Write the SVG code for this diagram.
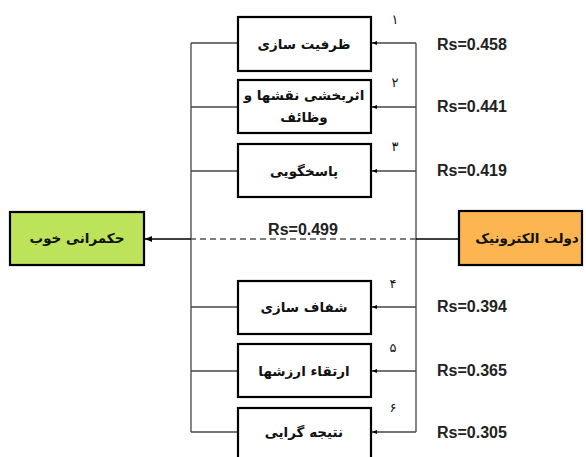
<svg xmlns="http://www.w3.org/2000/svg" width="586" height="457" viewBox="0 0 586 457">
<style>
.box{fill:#fff;stroke:#000;stroke-width:2.2}
.fa{font-family:"DejaVu Sans",sans-serif;font-weight:bold;font-size:13.5px;fill:#111;text-anchor:middle}
.num{font-family:"DejaVu Sans",sans-serif;font-size:13px;fill:#111;text-anchor:middle}
.rs{font-family:"Liberation Sans",Arial,sans-serif;font-weight:bold;font-size:16px;fill:#222}
.ln{stroke:#444;stroke-width:1.3;fill:none}
.dash{stroke:#555;stroke-width:1.3;stroke-dasharray:6 4;fill:none}
</style>
<defs>
<marker id="ah" markerWidth="6" markerHeight="6" refX="5" refY="3" orient="auto" markerUnits="userSpaceOnUse">
<path d="M0,1 L5,3 L0,5 Z" fill="#000"/>
</marker>
<marker id="ah2" markerWidth="8" markerHeight="8" refX="7" refY="4" orient="auto" markerUnits="userSpaceOnUse">
<path d="M0,1 L7,4 L0,7 Z" fill="#000"/>
</marker>
</defs>
<g id="connectors">
<line class="ln" x1="191" y1="43" x2="191" y2="432"/>
<line class="ln" x1="416" y1="43" x2="416" y2="432"/>
<line class="ln" x1="191" y1="43" x2="238" y2="43"/>
<line class="ln" x1="191" y1="107" x2="238" y2="107"/>
<line class="ln" x1="191" y1="171" x2="238" y2="171"/>
<line class="ln" x1="191" y1="307" x2="238" y2="307"/>
<line class="ln" x1="191" y1="371" x2="238" y2="371"/>
<line class="ln" x1="191" y1="432" x2="238" y2="432"/>
<line class="ln" x1="416" y1="43" x2="372" y2="43" marker-end="url(#ah)"/>
<line class="ln" x1="416" y1="107" x2="372" y2="107" marker-end="url(#ah)"/>
<line class="ln" x1="416" y1="171" x2="372" y2="171" marker-end="url(#ah)"/>
<line class="ln" x1="416" y1="307" x2="372" y2="307" marker-end="url(#ah)"/>
<line class="ln" x1="416" y1="371" x2="372" y2="371" marker-end="url(#ah)"/>
<line class="ln" x1="416" y1="432" x2="372" y2="432" marker-end="url(#ah)"/>
<line stroke="#000" stroke-width="1.5" x1="459" y1="239" x2="416" y2="239"/>
<line class="dash" x1="416" y1="239" x2="191" y2="239"/>
<line stroke="#000" stroke-width="1.5" x1="191" y1="239" x2="145" y2="239" marker-end="url(#ah2)"/>
<text class="rs" x="303" y="235" text-anchor="middle">Rs=0.499</text>
</g>
<g id="n1"><rect class="box" x="238" y="17" width="133" height="54"/><text class="fa" x="304" y="49" direction="rtl">ظرفیت سازی</text><text class="num" x="395" y="24">۱</text><text class="rs" x="437" y="50">Rs=0.458</text></g>
<g id="n2"><rect class="box" x="238" y="80" width="133" height="53"/><text class="fa" x="304" y="100" direction="rtl">اثربخشی نقشها و</text><text class="fa" x="304" y="122" direction="rtl">وظائف</text><text class="num" x="395" y="87">۲</text><text class="rs" x="437" y="112">Rs=0.441</text></g>
<g id="n3"><rect class="box" x="238" y="144" width="133" height="53"/><text class="fa" x="304" y="176" direction="rtl">پاسخگویی</text><text class="num" x="395" y="151">۳</text><text class="rs" x="437" y="176">Rs=0.419</text></g>
<g id="n4"><rect class="box" x="238" y="281" width="133" height="53"/><text class="fa" x="304" y="312" direction="rtl">شفاف سازی</text><text class="num" x="393" y="288">۴</text><text class="rs" x="437" y="312">Rs=0.394</text></g>
<g id="n5"><rect class="box" x="238" y="344" width="133" height="53"/><text class="fa" x="304" y="376" direction="rtl">ارتقاء ارزشها</text><text class="num" x="393" y="352">۵</text><text class="rs" x="437" y="376">Rs=0.365</text></g>
<g id="n6"><rect class="box" x="238" y="408" width="133" height="60"/><text class="fa" x="304" y="437" direction="rtl">نتیجه گرایی</text><text class="num" x="393" y="412">۶</text><text class="rs" x="437" y="438">Rs=0.305</text></g>
<g id="good"><rect x="10" y="212" width="134" height="53" fill="#bde35a" stroke="#000" stroke-width="2.2"/><text class="fa" x="77" y="243" direction="rtl" font-size="14">حکمرانی خوب</text></g>
<g id="egov"><rect x="459" y="211" width="123" height="54" fill="#fcb550" stroke="#000" stroke-width="2.2"/><text class="fa" x="527" y="243" direction="rtl" font-size="14">دولت الکترونیک</text></g>
</svg>
